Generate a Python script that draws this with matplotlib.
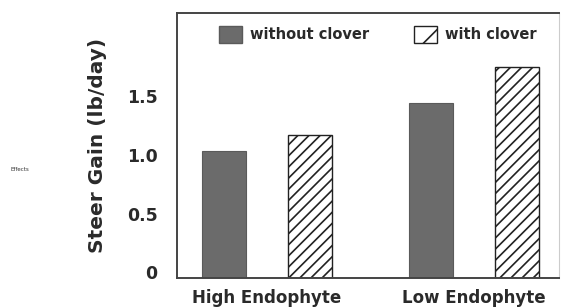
import matplotlib
matplotlib.use("Agg")
import matplotlib.pyplot as plt
from matplotlib.patches import Patch
import numpy as np

groups = ["High Endophyte", "Low Endophyte"]
without_clover = [1.03, 1.44]
with_clover = [1.17, 1.75]
yticks = [0, 0.5, 1.0, 1.5]
yticklabels = ["0", "0.5", "1.0", "1.5"]

plt.rcParams["hatch.linewidth"] = 1.2
plt.rcParams["hatch.color"] = "#222222"
TEXT = "#2a2a2a"
DARK = "#6b6b6b"

fig = plt.figure(figsize=(5.62, 3.08), dpi=100)
ax = fig.add_axes([0.315, 0.097, 0.68, 0.861])

x = np.arange(len(groups))
off, w = 0.208, 0.213
base = -0.05
ax.bar(x - off, np.array(without_clover) - base, w, bottom=base,
       color=DARK, edgecolor="#5a5a5a", linewidth=0.8)
ax.bar(x + off, np.array(with_clover) - base, w, bottom=base,
       color="white", edgecolor="#222222", linewidth=1.0, hatch="///")

ax.set_xlim(-0.435, 1.411)
ax.set_ylim(base, 2.21)
ax.set_yticks(yticks)
ax.set_yticklabels(yticklabels, fontsize=12.5, fontweight="bold", color=TEXT)
ax.set_xticks(x)
ax.set_xticklabels(groups, fontsize=12, fontweight="bold", color=TEXT)
ax.tick_params(axis="y", length=0, pad=14)
ax.tick_params(axis="x", length=0, pad=8)
ax.set_ylabel("Steer Gain (lb/day)", fontsize=14.5, fontweight="bold",
              color=TEXT, labelpad=14)

for side in ["left", "bottom", "top"]:
    ax.spines[side].set_color("#444444")
    ax.spines[side].set_linewidth(1.4)
ax.spines["right"].set_color("#cccccc")
ax.spines["right"].set_linewidth(0.8)

handles = [Patch(facecolor=DARK, edgecolor="#5a5a5a", label="without clover"),
           Patch(facecolor="white", edgecolor="#222222", hatch="/",
                 label="with clover")]
ax.legend(handles=handles, loc="upper center", ncol=2, frameon=False,
          bbox_to_anchor=(0.525, 1.0), handlelength=1.6, handleheight=1.4,
          columnspacing=3.1, handletextpad=0.5,
          prop={"size": 10.5, "weight": "bold"}, labelcolor=TEXT)

fig.text(0.035, 0.45, "Effects", fontsize=4, color="#333333",
         ha="center", va="center")

fig.savefig("out.png", dpi=100)
